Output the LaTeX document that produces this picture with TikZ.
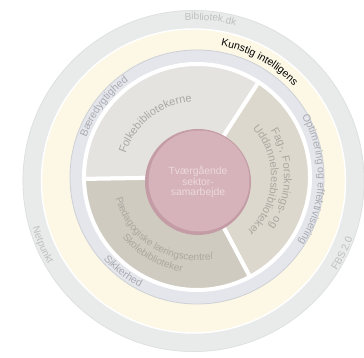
\documentclass[tikz,border=0pt]{standalone}
\usepackage{fontspec}
\setmainfont{Liberation Sans}
\usetikzlibrary{decorations.text}

\definecolor{outergray}{HTML}{E9EBEA}
\definecolor{outeredge}{HTML}{DDE0DF}
\definecolor{ringyellow}{HTML}{FDF8E6}
\definecolor{ringblue}{HTML}{E4E6EC}
\definecolor{ringedge}{HTML}{CDD0D5}
\definecolor{folkfill}{HTML}{E4E3DF}
\definecolor{fagfill}{HTML}{DDD8CE}
\definecolor{paedfill}{HTML}{D0CBC0}
\definecolor{pinkfill}{HTML}{D6B3BB}
\definecolor{pinkrim}{HTML}{C49CA5}
\definecolor{outertxt}{HTML}{BEC0C0}
\definecolor{bluetxt}{HTML}{A9ACB2}
\definecolor{sectortxt}{HTML}{ABA8A2}
\definecolor{centertxt}{HTML}{EBD9DC}

\newcommand{\outerfmt}{\fontsize{10}{10}\selectfont\color{outertxt}}
\newcommand{\aifmt}{\fontsize{10.5}{10.5}\selectfont\color{black}}
\newcommand{\bluefmt}{\fontsize{10.5}{10.5}\selectfont\color{bluetxt}}
\newcommand{\sectorfmt}{\fontsize{11}{11}\selectfont\color{sectortxt}}
\newcommand{\paedfmt}{\fontsize{10}{10}\selectfont\color{sectortxt}}

% clockwise label: center, radius, mid angle, format, text
\newcommand{\cwlabel}[5]{%
  \path[decorate,decoration={text along path,text align=center,text={|#4|#5}}]
    (#1) ++(#3+70:#2) arc[start angle=#3+70,end angle=#3-70,radius=#2];}
% counterclockwise label
\newcommand{\ccwlabel}[5]{%
  \path[decorate,decoration={text along path,text align=center,text={|#4|#5}}]
    (#1) ++(#3-70:#2) arc[start angle=#3-70,end angle=#3+70,radius=#2];}

\begin{document}
\begin{tikzpicture}[x=1pt,y=1pt,
  slice/.style={draw=white,line width=4pt,line join=round},
  hub/.style={circle,align=center,font=\fontsize{10.4}{10.6}\selectfont,text=centertxt}]
\useasboundingbox (0,0) rectangle (364,358);
\coordinate (O) at (193.5,177);
\coordinate (I) at (197,181);
\coordinate (P) at (198,176);

\fill[outergray] (O) circle[radius=171];
\draw[outeredge,line width=0.6pt] (O) circle[radius=170.5];
\fill[ringyellow] (O) circle[radius=152];
\draw[white,line width=1.4pt] (O) circle[radius=152];
\fill[ringblue] (I) circle[radius=127];
\draw[ringedge,line width=0.8pt] (I) circle[radius=127];

\filldraw[slice,fill=folkfill] (I) -- ++(57:113) arc[start angle=57,end angle=181,radius=113] -- cycle;
\filldraw[slice,fill=paedfill] (I) -- ++(181:113) arc[start angle=181,end angle=298,radius=113] -- cycle;
\filldraw[slice,fill=fagfill] (I) -- ++(-62:113) arc[start angle=-62,end angle=57,radius=113] -- cycle;

\fill[pinkrim] (P) circle[radius=53];
\fill[pinkfill] ([shift={(1,1)}]P) circle[radius=50.5];
\node[hub] (tvaer) at (P) {Tværgående\\sektor-\\samarbejde};

\cwlabel{O}{161}{84}{\outerfmt}{Bibliotek.dk}
\ccwlabel{O}{167.5}{203}{\outerfmt}{Netpunkt}
\ccwlabel{O}{169}{334}{\outerfmt}{FBS 2.0}
\cwlabel{O}{138}{61}{\aifmt}{Kunstig intelligens}

\cwlabel{I}{117.5}{143}{\bluefmt}{Bæredygtighed}
\cwlabel{I}{121}{-1.5}{\bluefmt}{Optimering og effektivisering}
\ccwlabel{I}{124.5}{232}{\bluefmt}{Sikkerhed}

\cwlabel{I}{75}{128}{\sectorfmt}{Folkebibliotekerne}
\cwlabel{I}{87}{-1}{\sectorfmt}{Fag-, Forsknings- og}
\cwlabel{I}{74}{-3}{\sectorfmt}{Uddannelsesbiblioteker}
\ccwlabel{I}{84}{238}{\paedfmt}{Pædagogiske læringscentre/}
\ccwlabel{I}{96}{240}{\paedfmt}{Skolebiblioteker}
\end{tikzpicture}
\end{document}
